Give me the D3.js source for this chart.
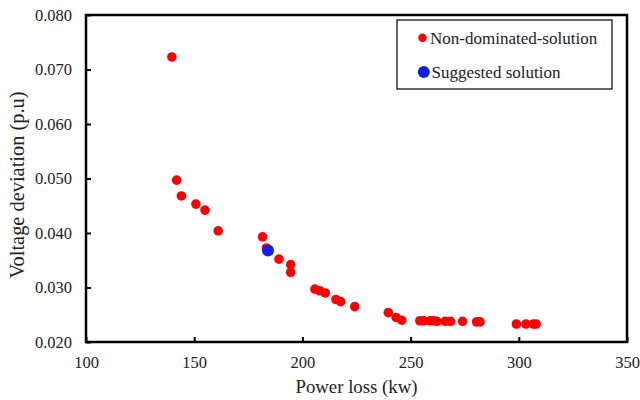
<!DOCTYPE html>
<html>
<head>
<meta charset="utf-8">
<script src="https://cdn.jsdelivr.net/npm/d3@7"></script>
<style>
  html, body { margin: 0; padding: 0; background: #fff; }
  svg { display: block; font-family: "Liberation Serif", "Times New Roman", serif; }
  svg text { font-family: "Liberation Serif", "Times New Roman", serif; }
</style>
</head>
<body>
<svg id="chart" width="640" height="400"></svg>
<script>
// Pareto front: power loss (kw) vs voltage deviation (p.u)
const lossKw = [139.7, 141.9, 144.1, 150.8, 155.0, 161.1, 181.6, 183.4, 189.2, 194.6, 194.6,
  205.8, 208.1, 210.6, 215.5, 217.7, 224.2, 239.7, 243.3, 245.9,
  254.3, 256.0, 259.0, 260.5, 262.2, 266.0, 268.5, 274.0, 280.5, 282.1,
  298.9, 303.3, 306.7, 308.0];
const voltDev = [0.0723, 0.0497, 0.0468, 0.0453, 0.0442, 0.0404, 0.0393, 0.03726, 0.0352, 0.0342, 0.0328,
  0.0297, 0.0294, 0.0290, 0.0278, 0.0274, 0.0265, 0.0254, 0.0245, 0.0240,
  0.0239, 0.0239, 0.0239, 0.0239, 0.0238, 0.0238, 0.0238, 0.0238, 0.0237, 0.0237,
  0.0233, 0.0233, 0.0233, 0.0233];
const suggestedLoss = [184.1];
const suggestedDev = [0.0368];

const xTicks = [100, 150, 200, 250, 300, 350];
const yTicks = [0.020, 0.030, 0.040, 0.050, 0.060, 0.070, 0.080];
const legendLabels = ["Non-dominated-solution", "Suggested solution"];

const svg = d3.select("#chart");
const m = { left: 86, right: 627, top: 15, bottom: 342 };

const x = d3.scaleLinear().domain([100, 350]).range([m.left, m.right]);
const y = d3.scaleLinear().domain([0.020, 0.080]).range([m.bottom, m.top]);

const serif = "'Liberation Serif', 'Times New Roman', serif";

// Ticks point inward; the frame replaces the domain lines
const xAxis = svg.append("g").attr("transform", `translate(0,${m.bottom})`)
  .call(d3.axisBottom(x).tickValues(xTicks).tickSizeInner(-5).tickSizeOuter(0).tickFormat(d3.format("d")));
xAxis.attr("font-family", null).attr("font-size", null);
xAxis.select(".domain").remove();
xAxis.selectAll(".tick line").attr("stroke", "#000").attr("stroke-width", 2);
xAxis.selectAll(".tick text").attr("y", 14.3)
  .style("font-family", serif).style("font-size", "16.5px").attr("fill", "#222");

const yAxis = svg.append("g").attr("transform", `translate(${m.left},0)`)
  .call(d3.axisLeft(y).tickValues(yTicks).tickSizeInner(-5).tickSizeOuter(0).tickFormat(d3.format(".3f")));
yAxis.attr("font-family", null).attr("font-size", null);
yAxis.select(".domain").remove();
yAxis.selectAll(".tick line").attr("stroke", "#000").attr("stroke-width", 2);
yAxis.selectAll(".tick text").attr("x", -14)
  .style("font-family", serif).style("font-size", "16.5px").attr("fill", "#222");

// Plot frame
svg.append("rect")
  .attr("x", m.left).attr("y", m.top)
  .attr("width", m.right - m.left).attr("height", m.bottom - m.top)
  .attr("fill", "none").attr("stroke", "#000").attr("stroke-width", 2.5);

// Non-dominated solutions
svg.append("g").selectAll("circle")
  .data(lossKw.map((d, i) => [d, voltDev[i]]))
  .join("circle")
  .attr("cx", d => x(d[0])).attr("cy", d => y(d[1]))
  .attr("r", 4.8).attr("fill", "#ff0000");

// Suggested solution
svg.append("g").selectAll("circle")
  .data(suggestedLoss.map((d, i) => [d, suggestedDev[i]]))
  .join("circle")
  .attr("cx", d => x(d[0])).attr("cy", d => y(d[1]))
  .attr("r", 6).attr("fill", "#1020e8");

// Legend
const lg = svg.append("g");
lg.append("rect").attr("x", 397).attr("y", 20).attr("width", 215).attr("height", 69)
  .attr("fill", "#fff").attr("stroke", "#000").attr("stroke-width", 1.2);
lg.append("circle").attr("cx", 422.5).attr("cy", 37.7).attr("r", 4.2).attr("fill", "#ff0000");
lg.append("text").attr("x", 430).attr("y", 44).style("font-size", "17px").attr("fill", "#222").text(legendLabels[0]);
lg.append("circle").attr("cx", 423.8).attr("cy", 72).attr("r", 6).attr("fill", "#1020e8");
lg.append("text").attr("x", 431.5).attr("y", 78).style("font-size", "17px").attr("fill", "#222").text(legendLabels[1]);

// Axis titles
svg.append("text").attr("x", (m.left + m.right) / 2).attr("y", 393)
  .attr("text-anchor", "middle").style("font-size", "18.8px").attr("fill", "#222").text("Power loss (kw)");
svg.append("text").attr("transform", "translate(24,185) rotate(-90)")
  .attr("text-anchor", "middle").style("font-size", "20.4px").attr("fill", "#222").text("Voltage deviation (p.u)");
</script>
</body>
</html>
